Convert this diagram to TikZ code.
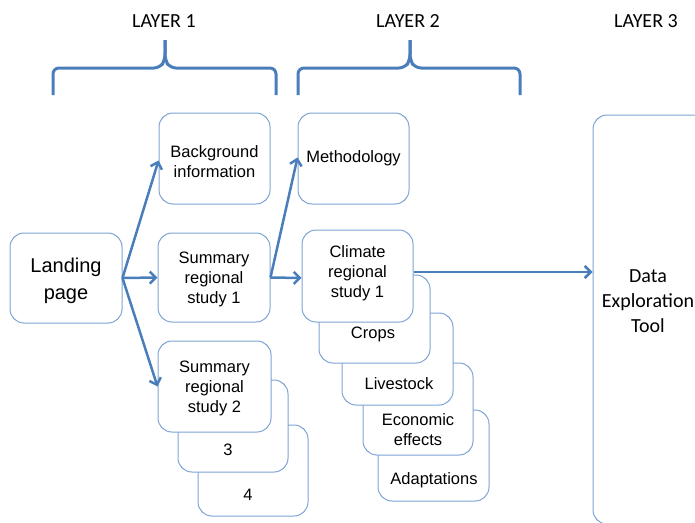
\documentclass[tikz,border=0pt]{standalone}
\usepackage{fontspec}
\setmainfont{Liberation Sans}
\newfontfamily\calfont{Carlito}
\usepackage{tikz}
\usetikzlibrary{arrows.meta,positioning,calc}
\definecolor{linkblue}{HTML}{4A7EBB}
\definecolor{cardline}{HTML}{7EA3D3}

\tikzset{
  card/.style={draw=cardline, line width=1pt, fill=white, rounded corners=14pt, inner sep=0pt, align=center,
               font=\fontsize{16.5}{20}\selectfont},
  cardtext/.style={inner sep=0pt, align=center, font=\fontsize{16.5}{20}\selectfont},
  layer/.style={inner sep=0pt, font=\calfont\fontsize{20}{24}\selectfont},
  link/.style={draw=linkblue, line width=2.5pt, -{Straight Barb[length=6pt,width=12pt,line width=2.5pt]}},
  brace/.style={draw=linkblue, line width=3pt, rounded corners=6pt}
}

\begin{document}
\begin{tikzpicture}[x=1pt, y=-1pt]
\useasboundingbox (0,0) rectangle (695,522);

\node[layer] (l1) at (164,21) {LAYER 1};
\node[layer] (l2) at (408,21) {LAYER 2};
\node[layer] (l3) at (646,21) {LAYER 3};

\draw[brace] (53,95) -- (53,68) -- (160,68) -- (165,60) -- (165,40);
\draw[brace] (165,40) -- (165,60) -- (170,68) -- (276,68) -- (276,95);
\draw[brace] (298,95) -- (298,68) -- (405,68) -- (410,60) -- (410,40);
\draw[brace] (410,40) -- (410,60) -- (415,68) -- (520,68) -- (520,95);

\node[card, minimum width=112, minimum height=90, font=\fontsize{20}{27}\selectfont] (landing) at (66,278) {};
\node[cardtext, font=\fontsize{20}{27}\selectfont] (landing-t) at (66,280.5) {Landing\\page};
\node[card, minimum width=111, minimum height=91] (bg) at (214.5,158.5) {};
\node[cardtext] (bg-t) at (214.5,162) {Background\\information};
\node[card, minimum width=112, minimum height=89] (sum1) at (214,277.5) {};
\node[cardtext] (sum1-t) at (214,279.5) {Summary\\regional\\study 1};

\node[card, minimum width=110, minimum height=91] (study4) at (253,470.5) {};
\node[cardtext] (study4-t) at (248,495) {4};
\node[card, minimum width=110, minimum height=92] (study3) at (233,426) {};
\node[cardtext] (study3-t) at (228,450) {3};
\node[card, minimum width=113, minimum height=91] (sum2) at (214.5,386.5) {};
\node[cardtext] (sum2-t) at (214.5,388.5) {Summary\\regional\\study 2};

\node[card, minimum width=111, minimum height=91] (meth) at (353.5,158.5) {Methodology};

\node[card, minimum width=111, minimum height=91] (adapt) at (433.5,455.5) {};
\node[cardtext] (adapt-t) at (434,480) {Adaptations};
\node[card, minimum width=110, minimum height=92] (econ) at (418,409) {};
\node[cardtext] (econ-t) at (418,429.5) {Economic\\effects};
\node[card, minimum width=111, minimum height=92] (live) at (397.5,359) {};
\node[cardtext] (live-t) at (399,384) {Livestock};
\node[card, minimum width=111, minimum height=88] (crops) at (374.5,319) {};
\node[cardtext] (crops-t) at (373,334) {Crops};
\node[card, minimum width=111, minimum height=92] (clim) at (357.5,276) {};
\node[cardtext] (clim-t) at (357.5,273.5) {Climate\\regional\\study 1};

\node[card, minimum width=167, minimum height=409] (det) at (676.5,319.5) {};
\node[inner sep=0pt, align=center, font=\calfont\fontsize{20}{25}\selectfont] (det-t) at (648,301) {Data\\Exploration\\Tool};

\draw[link] (landing.east) -- ([yshift=-2pt]bg.west);
\draw[link] (landing.east) -- (sum1.west);
\draw[link] (landing.east) -- (sum2.west);
\draw[link] (sum1.east) -- ([yshift=1pt]meth.west);
\draw[link] (sum1.east) -- ([yshift=-2pt]clim.west);
\draw[link] ([yshift=4pt]clim.east) -- ([yshift=4pt]clim.east -| det.west);
\end{tikzpicture}
\end{document}
